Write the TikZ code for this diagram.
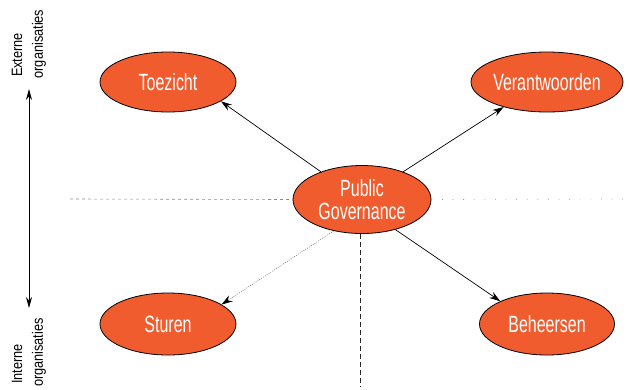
\documentclass[tikz,border=0pt]{standalone}
\usepackage{fontspec}
\usetikzlibrary{arrows.meta,shapes.geometric}
\newfontfamily\condsans[FakeStretch=0.68]{Liberation Sans}
\newfontfamily\sidesans[FakeStretch=0.85]{Liberation Sans}
\definecolor{pgorange}{RGB}{241,92,46}
\begin{document}
\begin{tikzpicture}[x=1pt,y=-1pt,
  blob/.style={ellipse,draw=black,line width=0.8pt,fill=pgorange,
    text=white,font=\condsans\fontsize{23.5}{23}\selectfont,
    inner sep=0pt,align=center},
  link/.style={line width=0.7pt,-{Stealth[length=11pt,width=7pt]}},
  faint/.style={line width=0.5pt,draw=black!55,dash pattern=on 1pt off 1.2pt,
    -{Stealth[length=11pt,width=7pt,color=black,fill=black]}},
  side/.style={rotate=90,font=\sidesans\fontsize{15}{16}\selectfont,inner sep=0pt}]
\useasboundingbox (0,0) rectangle (631,389);

% split between external and internal
\coordinate (hl) at (70,199);
\coordinate (hr) at (631,199);
\coordinate (vb) at (360,386);

\node[blob,minimum width=138pt,minimum height=68pt] (pg) at (362,199.5) {Public\\Governance};
\node[blob,minimum width=136pt,minimum height=60pt] (toe) at (168,82) {Toezicht};
\node[blob,minimum width=135pt,minimum height=60pt] (ver) at (547,82) {Verantwoorden};
\node[blob,minimum width=136pt,minimum height=62pt] (stu) at (168,324) {Sturen};
\node[blob,minimum width=135pt,minimum height=62pt] (beh) at (547,324) {Beheersen};

\draw[black!45,line width=0.6pt,dashed] (hl) -- (pg.west);
\draw[black!40,line width=0.7pt,dash pattern=on 0.8pt off 9.8pt] (pg.east) -- (hr);
\draw[black!85,line width=1pt,dash pattern=on 5pt off 3pt] (pg.south -| vb) -- (vb);

\draw[link] (pg.146) -- (toe.340);
\draw[link] (pg.34) -- (ver.210);
\draw[faint] (pg.228) -- (stu.20);
\draw[link] (pg.318) -- (beh.154);

% scope axis on the left
\coordinate (at) at (29,89);
\coordinate (ab) at (29,308);
\draw[line width=0.7pt,{Stealth[length=11pt,width=6pt]}-{Stealth[length=11pt,width=6pt]}] (ab) -- (at);
\node[side] (ext1) at (17,55) {Externe};
\node[side] (ext2) at (39,44) {organisaties};
\node[side,anchor=east] (int1) at (17,344) {Interne};
\node[side,anchor=east] (int2) at (39,318) {organisaties};
\end{tikzpicture}
\end{document}
